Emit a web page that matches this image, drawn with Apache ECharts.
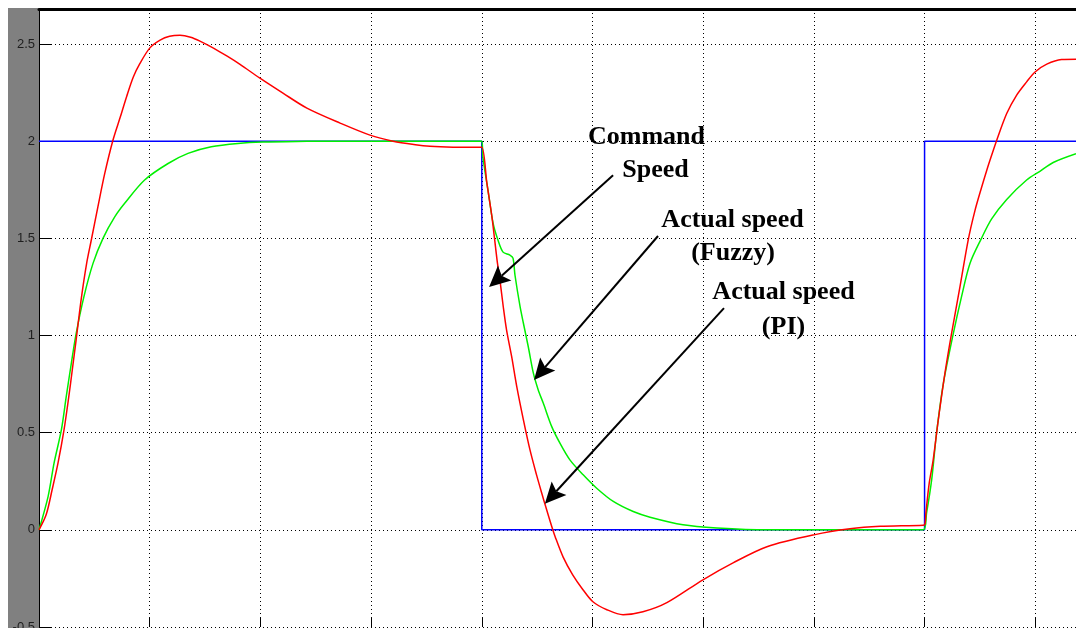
<!DOCTYPE html>
<html>
<head>
<meta charset="utf-8">
<script src="https://cdn.jsdelivr.net/npm/echarts@6/dist/echarts.min.js"></script>
<style>
  html, body { margin: 0; padding: 0; background: #ffffff; }
  #chart { width: 1076px; height: 628px; }
</style>
</head>
<body>
<div id="chart"></div>
<script>
// Motor speed step response: command speed vs. PI and fuzzy controllers.

// Command speed (step profile)
const cmdT = [0, 2, 2, 4, 4, 4.684];
const cmdV = [2, 2, 0, 0, 2, 2];

// Actual speed, PI controller
const piT = [0, 0.033, 0.060, 0.086, 0.113, 0.134, 0.150, 0.168, 0.191, 0.215, 0.236, 0.266, 0.297, 0.334,
  0.366, 0.396, 0.426, 0.456, 0.501, 0.547, 0.590, 0.637, 0.685, 0.727, 0.786, 0.850, 0.908, 0.998, 1.102,
  1.210, 1.360, 1.495, 1.599, 1.700, 1.766, 1.870, 1.978, 2.000,
  2.023, 2.046, 2.069, 2.082, 2.097, 2.112, 2.135, 2.158, 2.188, 2.218, 2.248, 2.270, 2.293, 2.316, 2.331,
  2.367, 2.410, 2.457, 2.502, 2.565, 2.638, 2.728, 2.836, 2.999, 3.135, 3.288, 3.500, 3.663, 3.799, 3.994, 4.002,
  4.006, 4.021, 4.039, 4.062, 4.092, 4.122, 4.160, 4.197, 4.227, 4.257, 4.281, 4.295, 4.326, 4.371, 4.416,
  4.461, 4.499, 4.552, 4.619, 4.684];
const piV = [0, 0.08, 0.21, 0.344, 0.514, 0.68, 0.82, 0.98, 1.19, 1.37, 1.49, 1.662, 1.834, 2.005,
  2.12, 2.23, 2.33, 2.40, 2.48, 2.52, 2.54, 2.545, 2.535, 2.515, 2.48, 2.437, 2.395, 2.324, 2.247,
  2.170, 2.093, 2.031, 2.000, 1.982, 1.974, 1.969, 1.968, 1.968,
  1.784, 1.609, 1.388, 1.285, 1.148, 1.028, 0.891, 0.737, 0.566, 0.41, 0.28, 0.192, 0.103, 0.017, -0.034,
  -0.139, -0.23, -0.308, -0.370, -0.411, -0.437, -0.422, -0.375, -0.257, -0.170, -0.087, -0.026, 0.005, 0.018, 0.024, 0.03,
  0.086, 0.240, 0.360, 0.566, 0.806, 1.011, 1.251, 1.491, 1.64, 1.76, 1.85, 1.90, 2.005, 2.142, 2.237,
  2.305, 2.356, 2.396, 2.420, 2.422];

// Actual speed, fuzzy controller
const fuzzyT = [0, 0.003, 0.041, 0.068, 0.101, 0.123, 0.146, 0.168, 0.203, 0.244, 0.289, 0.342, 0.387, 0.477,
  0.583, 0.673, 0.778, 0.899, 1.012, 1.210, 1.300, 2.000,
  2.005, 2.028, 2.051, 2.073, 2.096, 2.127, 2.141, 2.150, 2.173, 2.188, 2.210, 2.233, 2.255, 2.278, 2.316,
  2.353, 2.398, 2.458, 2.519, 2.594, 2.684, 2.760, 2.909, 3.062, 3.288, 3.994,
  4.009, 4.032, 4.054, 4.085, 4.130, 4.167, 4.205, 4.257, 4.303, 4.371, 4.461, 4.521, 4.581, 4.684];
const fuzzyV = [0, 0, 0.171, 0.343, 0.514, 0.685, 0.857, 1.011, 1.200, 1.371, 1.50, 1.61, 1.68, 1.800,
  1.885, 1.937, 1.971, 1.988, 1.995, 1.999, 2.0, 2.0,
  1.918, 1.748, 1.578, 1.491, 1.429, 1.414, 1.398, 1.31, 1.148, 1.063, 0.942, 0.806, 0.720, 0.651, 0.531,
  0.446, 0.360, 0.283, 0.214, 0.146, 0.094, 0.065, 0.026, 0.010, 0.0, 0.0,
  0.086, 0.257, 0.497, 0.754, 1.011, 1.200, 1.371, 1.50, 1.60, 1.70, 1.80, 1.845, 1.89, 1.935];

// Axis ticks
const yTicks = [-0.5, 0, 0.5, 1, 1.5, 2, 2.5];
const yTickLabels = ['-0.5', '0', '0.5', '1', '1.5', '2', '2.5'];
const xTickStep = 0.5;
const yTickStep = 0.5;
const xRange = [0, 4.684];
const yRange = [-0.5, 2.68];

// Callout texts
const calloutTexts = ['Command', 'Speed', 'Actual speed', '(Fuzzy)', 'Actual speed', '(PI)'];

// Arrow callouts, tip and tail in axis units
const arrows = [
  { tail: [2.593, 1.825], tip: [2.033, 1.249] },
  { tail: [2.796, 1.512], tip: [2.236, 0.771] },
  { tail: [3.094, 1.141], tip: [2.285, 0.134] }
];

const zip = (t, v) => t.map((x, i) => [x, v[i]]);

const dotted = { color: '#000', width: 1, type: [1, 3] };

const option = {
  animation: false,
  backgroundColor: '#ffffff',
  grid: { left: 39, right: 0, top: 9, bottom: 1, containLabel: false, outerBoundsMode: 'none' },
  xAxis: [
    {
      type: 'value', position: 'bottom',
      min: xRange[0], max: xRange[1], interval: xTickStep,
      axisLine: { show: false, onZero: false },
      axisTick: { show: true, inside: true, length: 10, lineStyle: { color: '#000', width: 1 } },
      axisLabel: { show: false },
      splitLine: { show: true, lineStyle: dotted }
    },
    {
      type: 'value', position: 'top',
      min: xRange[0], max: xRange[1], interval: xTickStep,
      axisLine: { show: true, onZero: false, lineStyle: { color: '#000', width: 3 } },
      axisTick: { show: false },
      axisLabel: { show: false },
      splitLine: { show: false }
    }
  ],
  yAxis: {
    type: 'value',
    min: yRange[0], max: yRange[1], interval: yTickStep,
    axisLine: { show: true, onZero: false, lineStyle: { color: '#000', width: 1 } },
    axisTick: { show: true, inside: true, length: 12, lineStyle: { color: '#000', width: 1 } },
    axisLabel: {
      show: true, margin: 4, color: '#1e1e1e', fontSize: 13, fontFamily: 'Liberation Sans',
      showMaxLabel: false, hideOverlap: false,
      formatter: function (v) {
        const i = yTicks.findIndex(t => Math.abs(t - v) < 1e-6);
        return i >= 0 ? yTickLabels[i] : '';
      }
    },
    splitLine: { show: true, lineStyle: dotted }
  },
  series: [
    {
      name: 'Command Speed', type: 'line', xAxisIndex: 0, data: zip(cmdT, cmdV),
      showSymbol: false, symbol: 'none', lineStyle: { color: '#0000ff', width: 1.5 }, z: 2
    },
    {
      name: 'Actual speed (Fuzzy)', type: 'line', xAxisIndex: 0, data: zip(fuzzyT, fuzzyV),
      showSymbol: false, symbol: 'none', smooth: 0.3,
      lineStyle: { color: '#00f000', width: 1.5 }, z: 3
    },
    {
      name: 'Actual speed (PI)', type: 'line', xAxisIndex: 0, data: zip(piT, piV),
      showSymbol: false, symbol: 'none', smooth: 0.3,
      lineStyle: { color: '#ff0000', width: 1.5 }, z: 4
    }
  ]
};

const chart = echarts.init(document.getElementById('chart'));
chart.setOption(option);

const toPx = p => chart.convertToPixel({ xAxisIndex: 0, yAxisIndex: 0 }, p);

const elements = [
  // grey strip behind the value labels
  { type: 'rect', z: -10, silent: true, shape: { x: 8, y: 8, width: 31, height: 620 }, style: { fill: '#808080' } }
];

arrows.forEach(a => {
  const tip = toPx(a.tip), tail = toPx(a.tail);
  const dx = tail[0] - tip[0], dy = tail[1] - tip[1];
  const len = Math.hypot(dx, dy);
  const ux = dx / len, uy = dy / len, nx = -uy, ny = ux;
  const L = 21, W = 10, N = 17;
  elements.push({
    type: 'line', z: 20,
    shape: { x1: tail[0], y1: tail[1], x2: tip[0] + ux * N, y2: tip[1] + uy * N },
    style: { stroke: '#000', lineWidth: 2 }
  });
  elements.push({
    type: 'polygon', z: 20,
    shape: { points: [
      [tip[0], tip[1]],
      [tip[0] + ux * L + nx * W, tip[1] + uy * L + ny * W],
      [tip[0] + ux * N, tip[1] + uy * N],
      [tip[0] + ux * L - nx * W, tip[1] + uy * L - ny * W]
    ] },
    style: { fill: '#000' }
  });
});

const calloutPos = [[646.5, 137], [655.5, 170], [732.5, 220], [733, 253], [783.5, 292], [783.5, 327]];
calloutTexts.forEach((t, i) => {
  elements.push({
    type: 'text', z: 20, x: calloutPos[i][0], y: calloutPos[i][1],
    style: {
      text: t, fill: '#000', fontSize: 26, fontWeight: 'bold', fontFamily: 'Liberation Serif',
      align: 'center', verticalAlign: 'middle'
    }
  });
});

chart.setOption({ graphic: { elements: elements } });
</script>
</body>
</html>
